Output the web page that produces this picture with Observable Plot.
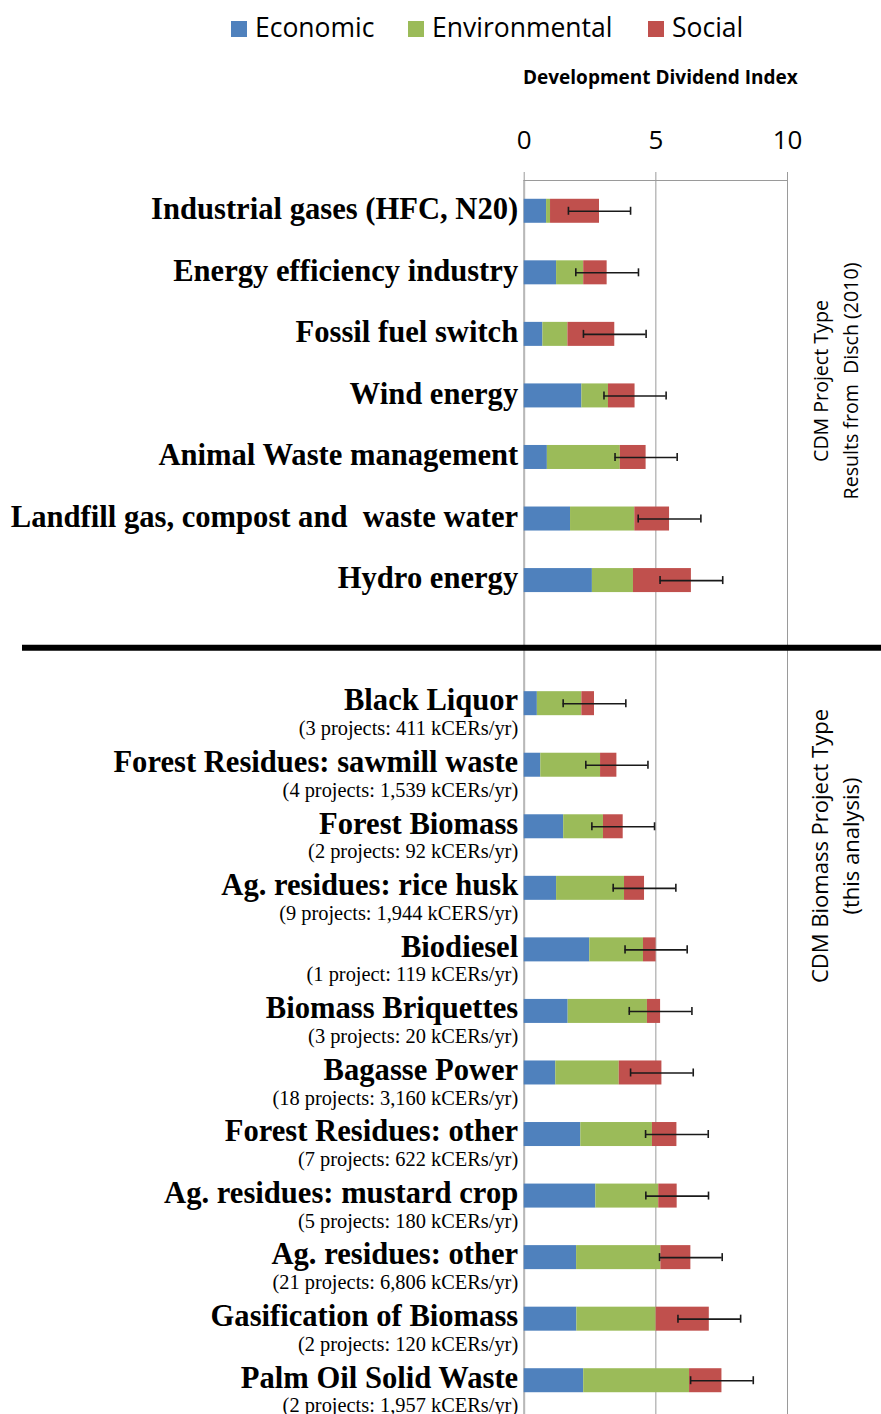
<!DOCTYPE html>
<html><head><meta charset="utf-8">
<script src="https://cdn.jsdelivr.net/npm/d3@7"></script>
<script src="https://cdn.jsdelivr.net/npm/@observablehq/plot@0.6"></script>
<style>
body{margin:0;background:#fff;}
#wrap{position:relative;width:881px;height:1414px;overflow:hidden;font-family:"Open Sans",sans-serif;color:#000;}
#chart{position:absolute;left:0;top:0;}
.abs{position:absolute;white-space:pre;}
svg text{white-space:pre;}
</style></head><body>
<div id="wrap"><div id="chart"></div></div>
<script>
// ---- data ----
const components = ["Economic", "Environmental", "Social"];
const colors = ["#4F81BD", "#9BBB59", "#C0504D"];

const topNames = ["Industrial gases (HFC, N20)", "Energy efficiency industry", "Fossil fuel switch",
  "Wind energy", "Animal Waste management", "Landfill gas, compost and  waste water", "Hydro energy"];
const topEcon = [0.85, 1.23, 0.71, 2.19, 0.88, 1.76, 2.59];
const topEnv  = [0.15, 1.03, 0.95, 1.01, 2.77, 2.44, 1.56];
const topSoc  = [1.86, 0.89, 1.78, 1.01, 0.98, 1.32, 2.20];
const topErr  = [1.18, 1.19, 1.19, 1.18, 1.18, 1.19, 1.19];

const botNames = ["Black Liquor", "Forest Residues: sawmill waste", "Forest Biomass", "Ag. residues: rice husk",
  "Biodiesel", "Biomass Briquettes", "Bagasse Power", "Forest Residues: other", "Ag. residues: mustard crop",
  "Ag. residues: other", "Gasification of Biomass", "Palm Oil Solid Waste"];
const botSubs = ["(3 projects: 411 kCERs/yr)", "(4 projects: 1,539 kCERs/yr)", "(2 projects: 92 kCERs/yr)",
  "(9 projects: 1,944 kCERS/yr)", "(1 project: 119 kCERs/yr)", "(3 projects: 20 kCERs/yr)",
  "(18 projects: 3,160 kCERs/yr)", "(7 projects: 622 kCERs/yr)", "(5 projects: 180 kCERs/yr)",
  "(21 projects: 6,806 kCERs/yr)", "(2 projects: 120 kCERs/yr)", "(2 projects: 1,957 kCERs/yr)"];
const botEcon = [0.50, 0.63, 1.50, 1.23, 2.49, 1.67, 1.20, 2.15, 2.72, 1.99, 2.00, 2.26];
const botEnv  = [1.69, 2.27, 1.51, 2.58, 2.04, 3.01, 2.41, 2.72, 2.39, 3.20, 3.01, 4.02];
const botSoc  = [0.48, 0.62, 0.75, 0.76, 0.48, 0.50, 1.62, 0.93, 0.70, 1.14, 2.02, 1.23];
const botErr  = [1.19, 1.18, 1.19, 1.19, 1.18, 1.19, 1.19, 1.19, 1.19, 1.19, 1.19, 1.19];

const xTicks = [0, 5, 10];
const axisTitle = "Development Dividend Index";
const sideTop = ["CDM Project Type", "Results from  Disch (2010)"];
const sideBot = ["CDM Biomass Project Type", "(this analysis)"];
const GAP = " ";

// ---- build tables ----
function build(names, e, v, s, err, subs) {
  return names.map((name, i) => {
    const total = e[i] + v[i] + s[i];
    return {name, sub: subs ? subs[i] : "", e: e[i], v: v[i], s: s[i], total, lo: total - err[i], hi: total + err[i]};
  });
}
const topRows = build(topNames, topEcon, topEnv, topSoc, topErr);
const bottomRows = build(botNames, botEcon, botEnv, botSoc, botErr, botSubs);
const rows = [...topRows, ...bottomRows];
const stacked = rows.flatMap(r => [
  {name: r.name, component: components[0], value: r.e},
  {name: r.name, component: components[1], value: r.v},
  {name: r.name, component: components[2], value: r.s}
]);
const domainY = [...topNames, GAP, ...botNames];

const serif = "'Liberation Serif', 'Times New Roman', serif";

const plot = Plot.plot({
  width: 881,
  height: 1414,
  marginLeft: 523.7,
  marginRight: 94,
  marginTop: 180,
  marginBottom: 0,
  style: {fontFamily: "'Open Sans', sans-serif", background: "transparent", overflow: "visible"},
  x: {domain: [0, 10], axis: null},
  y: {domain: domainY, range: [180, 1411], paddingInner: 0.61, paddingOuter: 0.305, round: false, axis: null},
  color: {domain: components, range: colors},
  marks: [
    Plot.gridX(xTicks, {stroke: "#9a9a9a", strokeOpacity: 1}),
    Plot.ruleX([0], {stroke: "#b8b8b8", strokeWidth: 2}),
    Plot.frame({anchor: "top", stroke: "#9a9a9a"}),
    Plot.axisX({anchor: "top", ticks: xTicks, tickSize: 9, tickPadding: 23, fontSize: 26, label: null, tickFormat: d => String(d)}),
    Plot.barX(stacked, Plot.stackX({x: "value", y: "name", fill: "component", order: components})),
    Plot.ruleY(rows, {y: "name", x1: "lo", x2: "hi", stroke: "#1a1a1a", strokeWidth: 1.6}),
    Plot.tickX(rows, {y: "name", x: "lo", stroke: "#1a1a1a", strokeWidth: 1.6, insetTop: 8, insetBottom: 8}),
    Plot.tickX(rows, {y: "name", x: "hi", stroke: "#1a1a1a", strokeWidth: 1.6, insetTop: 8, insetBottom: 8}),
    Plot.ruleY([GAP], {y: d => d, stroke: "#000", strokeWidth: 6, dy: 5.5, insetLeft: -501.7, insetRight: -94}),
    Plot.text(topRows, {y: "name", text: "name", frameAnchor: "left", textAnchor: "end", dx: -6, dy: -2,
      fontFamily: serif, fontWeight: "bold", fontSize: 30.6, fill: "#000"}),
    Plot.text(bottomRows, {y: "name", text: "name", frameAnchor: "left", textAnchor: "end", dx: -6, dy: -3,
      fontFamily: serif, fontWeight: "bold", fontSize: 30.6, fill: "#000"}),
    Plot.text(bottomRows, {y: "name", text: "sub", frameAnchor: "left", textAnchor: "end", dx: -6, dy: 25,
      fontFamily: serif, fontSize: 20.4, fill: "#000"})
  ]
});
document.getElementById("chart").appendChild(plot);
// grey tick marks like the reference
plot.querySelectorAll('g[aria-label="x-axis tick"]').forEach(g => g.setAttribute("stroke", "#9a9a9a"));

// ---- HTML legend, axis title and side notes ----
const wrap = document.getElementById("wrap");
function addDiv(text, css) {
  const d = document.createElement("div");
  d.className = "abs";
  d.textContent = text;
  Object.assign(d.style, css);
  wrap.appendChild(d);
  return d;
}
const legendSquareX = [231, 408, 648];
components.forEach((c, i) => {
  addDiv("", {left: legendSquareX[i] + "px", top: "21px", width: "16px", height: "16px", background: colors[i]});
  addDiv(c, {left: (legendSquareX[i] + 24) + "px", top: "14px", fontSize: "26.5px", lineHeight: "26px"});
});
addDiv(axisTitle, {left: "523px", top: "68px", fontSize: "19px", lineHeight: "19px", fontWeight: "bold"});

function side(lines, cx, cy, spacing, size) {
  const W = 360, H = spacing * lines.length;
  addDiv(lines.join("\n"), {left: (cx - W / 2) + "px", top: (cy - H / 2) + "px", width: W + "px", height: H + "px",
    textAlign: "center", fontSize: size + "px", lineHeight: spacing + "px", transform: "rotate(-90deg)", transformOrigin: "50% 50%"});
}
side(sideTop, 836, 381, 30, 19.6);
side(sideBot, 835, 846, 31, 22);
</script>
</body></html>
